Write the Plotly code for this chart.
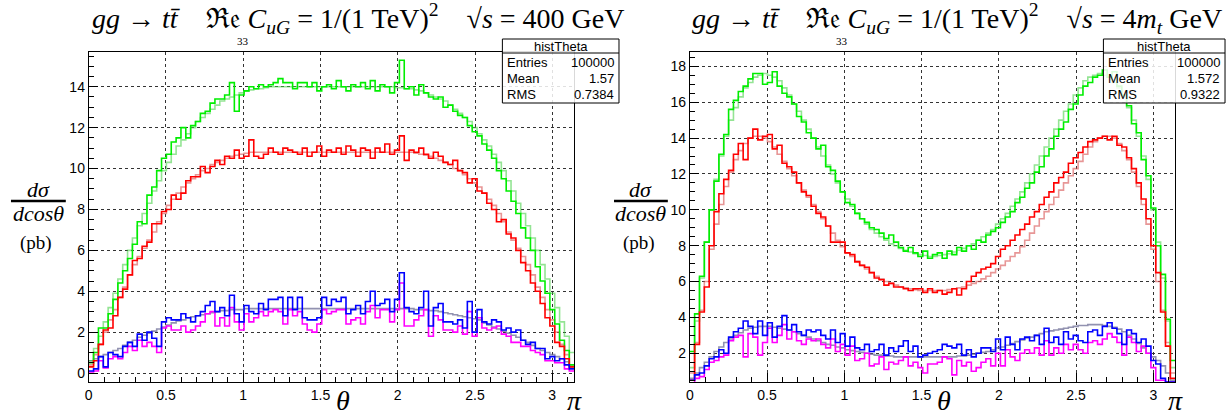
import numpy as np
import plotly.graph_objects as go

# ---------------- data (100 bins in theta from 0 to pi) ----------------
NBINS = 100
theta_edges = np.linspace(0, np.pi, NBINS + 1)

# Left panel: sqrt(s) = 400 GeV
green_smooth_L = [0.6, 1.2, 1.8, 2.5, 3.2, 3.9, 4.6, 5.3, 6.0, 6.6,
                  7.2, 7.8, 8.3, 8.9, 9.4, 9.9, 10.3, 10.7, 11.1, 11.4,
                  11.7, 12.0, 12.3, 12.5, 12.7, 12.9, 13.1, 13.3, 13.4, 13.5,
                  13.6, 13.7, 13.8, 13.85, 13.9, 13.9, 13.95, 14.0, 14.0, 14.0,
                  14.0, 14.0, 14.0, 14.0, 14.0, 14.0, 14.0, 14.0, 14.0, 14.0,
                  14.0, 14.0, 14.0, 14.0, 14.0, 14.0, 14.0, 14.0, 14.0, 14.0,
                  14.0, 14.0, 14.0, 13.95, 13.95, 13.9, 13.9, 13.85, 13.8, 13.7,
                  13.6, 13.5, 13.4, 13.3, 13.1, 12.9, 12.7, 12.5, 12.3, 12.0,
                  11.7, 11.4, 11.1, 10.7, 10.3, 9.9, 9.4, 8.9, 8.3, 7.8,
                  7.2, 6.6, 6.0, 5.3, 4.6, 3.9, 3.2, 2.5, 1.8, 1.0]
green_L = [0.5, 1.0, 2.2, 2.2, 2.9, 3.6, 4.4, 5.0, 5.6, 6.3,
           7.4, 7.3, 8.7, 9.1, 9.9, 10.5, 10.7, 11.3, 11.5, 12.0,
           11.5, 12.1, 12.3, 12.7, 12.8, 13.2, 13.4, 13.4, 13.6, 14.2,
           12.8, 13.6, 13.8, 14.0, 13.9, 14.1, 14.0, 14.1, 14.2, 14.4,
           14.2, 14.2, 13.9, 14.2, 14.2, 14.0, 14.2, 13.8, 14.0, 14.1,
           13.9, 14.3, 14.0, 13.8, 14.1, 14.0, 14.2, 13.9, 14.3, 13.8,
           14.1, 14.0, 13.7, 14.2, 15.3, 13.9, 14.0, 13.6, 14.1, 13.7,
           13.5, 13.4, 13.5, 13.0, 13.1, 12.8, 12.6, 12.5, 12.1, 11.8,
           11.6, 11.2, 10.9, 10.5, 9.9, 9.5, 8.9, 8.4, 7.8, 7.1,
           6.6, 6.0, 5.2, 4.5, 3.9, 3.1, 2.4, 1.6, 1.1, 0.4]
red_smooth_L = [0.4, 0.9, 1.4, 2.0, 2.6, 3.1, 3.7, 4.2, 4.8, 5.3,
                5.7, 6.1, 6.5, 6.9, 7.4, 7.8, 8.2, 8.5, 8.8, 9.1,
                9.3, 9.5, 9.7, 9.9, 10.0, 10.2, 10.3, 10.4, 10.5, 10.6,
                10.65, 10.7, 10.75, 10.8, 10.8, 10.8, 10.8, 10.8, 10.8, 10.8,
                10.8, 10.8, 10.8, 10.8, 10.8, 10.8, 10.8, 10.8, 10.8, 10.8,
                10.8, 10.8, 10.8, 10.8, 10.8, 10.8, 10.8, 10.8, 10.8, 10.8,
                10.8, 10.8, 10.8, 10.8, 10.8, 10.8, 10.8, 10.75, 10.7, 10.65,
                10.6, 10.5, 10.4, 10.3, 10.2, 10.0, 9.9, 9.7, 9.5, 9.3,
                9.1, 8.8, 8.5, 8.2, 7.8, 7.4, 6.9, 6.5, 6.1, 5.7,
                5.3, 4.8, 4.2, 3.7, 3.1, 2.6, 2.0, 1.4, 0.9, 0.4]
red_L = [0.3, 0.6, 1.4, 2.1, 2.2, 2.8, 3.7, 4.1, 4.8, 5.5,
         5.6, 6.2, 6.4, 7.3, 7.3, 7.9, 8.0, 8.7, 8.5, 8.8,
         9.4, 9.6, 9.6, 10.1, 9.8, 10.1, 10.4, 10.2, 10.6, 10.5,
         10.9, 10.5, 10.6, 11.4, 10.6, 10.5, 10.7, 11.0, 10.8, 10.7,
         11.0, 10.9, 10.8, 10.7, 11.0, 10.6, 10.8, 11.1, 10.6, 10.9,
         10.8, 11.0, 10.7, 11.1, 10.9, 10.6, 11.0, 10.9, 10.5, 11.0,
         10.8, 11.2, 10.7, 10.9, 11.6, 10.4, 10.9, 10.8, 11.0, 10.7,
         10.5, 10.8, 10.6, 10.3, 10.2, 10.4, 9.9, 9.8, 9.3, 9.5,
         8.9, 8.8, 8.3, 8.0, 7.4, 7.5, 6.8, 6.6, 6.0, 5.4,
         5.0, 4.4, 4.0, 3.4, 2.7, 2.3, 1.5, 1.3, 0.7, 0.3]
gray_L = [0.6, 0.7, 0.8, 0.9, 1.0, 1.1, 1.2, 1.35, 1.5, 1.6,
          1.75, 1.85, 1.95, 2.05, 2.15, 2.25, 2.35, 2.45, 2.55, 2.6,
          2.7, 2.75, 2.8, 2.85, 2.9, 2.95, 3.0, 3.05, 3.05, 3.1,
          3.1, 3.1, 3.15, 3.15, 3.15, 3.15, 3.15, 3.15, 3.15, 3.15,
          3.15, 3.15, 3.15, 3.15, 3.15, 3.15, 3.15, 3.15, 3.15, 3.15,
          3.15, 3.15, 3.15, 3.15, 3.15, 3.15, 3.15, 3.15, 3.15, 3.15,
          3.15, 3.15, 3.15, 3.15, 3.15, 3.15, 3.15, 3.1, 3.1, 3.1,
          3.05, 3.05, 3.0, 2.95, 2.9, 2.85, 2.8, 2.75, 2.7, 2.65,
          2.6, 2.45, 2.35, 2.25, 2.15, 2.05, 1.95, 1.85, 1.75, 1.6,
          1.5, 1.35, 1.2, 1.1, 1.0, 0.9, 0.8, 0.7, 0.55, 0.3]
blue_L = [0.1, 0.2, 0.8, 0.3, 1.0, 0.9, 0.8, 1.3, 1.5, 1.3,
          1.9, 1.6, 2.0, 1.7, 1.3, 2.5, 2.7, 2.6, 2.6, 2.9,
          2.7, 2.5, 2.8, 3.0, 3.3, 3.5, 3.0, 3.2, 2.8, 3.8,
          2.9, 2.5, 3.3, 3.0, 2.9, 3.4, 3.1, 3.6, 3.6, 3.7,
          2.8, 3.7, 3.1, 3.7, 2.7, 2.6, 2.6, 2.7, 3.7, 3.3,
          3.6, 3.5, 3.7, 2.9, 3.1, 3.3, 2.9, 3.5, 4.0, 3.3,
          3.4, 3.6, 3.0, 3.6, 4.9, 3.2, 3.0, 2.9, 3.2, 4.0,
          2.3, 3.2, 3.4, 2.5, 2.5, 2.4, 2.6, 2.2, 3.5, 2.0,
          3.1, 2.5, 2.4, 2.6, 2.5, 2.1, 2.2, 2.0, 2.1, 1.6,
          1.4, 1.5, 1.2, 1.2, 0.7, 0.8, 0.6, 0.7, 0.4, 0.2]
magenta_L = [0.05, 0.1, 0.6, 0.25, 0.7, 0.8, 0.7, 1.0, 1.3, 1.1,
             1.6, 1.3, 1.5, 1.3, 1.0, 2.2, 2.3, 2.1, 2.1, 2.3,
             2.0, 2.1, 2.3, 2.5, 2.9, 3.0, 2.3, 2.7, 2.3, 3.2,
             2.5, 2.1, 2.9, 2.5, 2.7, 3.0, 2.8, 3.0, 3.1, 3.0,
             2.4, 3.1, 2.8, 3.0, 2.4, 2.1, 2.0, 2.4, 3.1, 2.9,
             3.0, 3.1, 3.1, 2.4, 2.6, 2.7, 2.4, 3.0, 3.3, 2.7,
             3.1, 3.1, 2.5, 3.1, 4.4, 2.3, 2.3, 2.6, 2.8, 3.1,
             1.8, 2.8, 2.6, 2.1, 2.1, 2.0, 2.3, 1.9, 3.0, 1.8,
             2.7, 2.2, 2.1, 2.2, 2.3, 1.9, 1.8, 1.5, 1.5, 1.3,
             1.3, 1.1, 1.0, 0.9, 0.6, 0.6, 0.5, 0.5, 0.2, 0.1]

# Right panel: sqrt(s) = 4 m_t
green_smooth_R = [1.2, 3.8, 6.2, 8.2, 10.0, 11.7, 13.0, 14.1, 15.0, 15.7,
                  16.3, 16.8, 17.1, 17.4, 17.5, 17.6, 17.5, 17.4, 17.2, 16.8,
                  16.4, 15.9, 15.5, 15.0, 14.5, 14.0, 13.5, 13.0, 12.5, 12.0,
                  11.5, 11.0, 10.6, 10.2, 9.8, 9.5, 9.2, 8.9, 8.7, 8.5,
                  8.3, 8.1, 8.0, 7.85, 7.75, 7.65, 7.55, 7.5, 7.45, 7.4,
                  7.4, 7.45, 7.5, 7.55, 7.65, 7.75, 7.85, 8.0, 8.1, 8.3,
                  8.5, 8.7, 8.9, 9.2, 9.5, 9.8, 10.2, 10.6, 11.0, 11.5,
                  12.0, 12.5, 13.0, 13.5, 14.0, 14.5, 15.0, 15.5, 15.9, 16.4,
                  16.8, 17.2, 17.4, 17.5, 17.6, 17.5, 17.4, 17.1, 16.8, 16.3,
                  15.7, 15.0, 14.1, 13.0, 11.7, 10.0, 8.2, 6.2, 3.8, 1.2]
green_R = [2.1, 4.2, 6.3, 8.2, 10.0, 11.6, 13.1, 14.2, 15.6, 16.1,
           16.6, 16.9, 17.3, 17.6, 17.6, 17.0, 17.1, 17.7, 16.9, 16.5,
           16.3, 15.9, 15.2, 14.9, 14.3, 14.0, 13.4, 13.6, 12.4, 12.2,
           11.6, 11.0, 10.4, 10.3, 9.8, 9.5, 9.3, 9.0, 8.9, 8.7,
           8.4, 8.6, 8.2, 7.9, 7.7, 7.9, 7.6, 7.4, 7.7, 7.3,
           7.5, 7.6, 7.3, 7.7, 7.5, 7.9, 7.7, 8.0, 7.8, 8.3,
           8.2, 8.6, 8.8, 9.0, 9.3, 9.6, 9.9, 10.4, 10.7, 11.2,
           11.5, 12.1, 12.4, 13.0, 13.4, 14.1, 14.5, 14.9, 15.6, 15.9,
           16.4, 16.9, 17.1, 17.4, 17.5, 17.8, 17.4, 17.7, 16.9, 16.4,
           15.8, 14.8, 14.3, 12.8, 11.9, 10.1, 8.0, 6.4, 3.9, 1.6]
red_smooth_R = [0.9, 2.6, 4.4, 6.0, 7.8, 9.2, 10.3, 11.3, 12.1, 12.8,
                13.3, 13.7, 14.0, 14.1, 14.1, 14.0, 13.8, 13.5, 13.1, 12.7,
                12.3, 11.9, 11.5, 11.1, 10.7, 10.3, 9.9, 9.5, 9.1, 8.7,
                8.3, 7.95, 7.6, 7.4, 7.15, 6.9, 6.7, 6.5, 6.3, 6.15,
                6.0, 5.9, 5.8, 5.7, 5.65, 5.6, 5.55, 5.5, 5.5, 5.5,
                5.5, 5.5, 5.5, 5.55, 5.6, 5.65, 5.7, 5.8, 5.9, 6.0,
                6.15, 6.3, 6.5, 6.7, 6.9, 7.15, 7.4, 7.6, 7.95, 8.3,
                8.7, 9.1, 9.5, 9.9, 10.3, 10.7, 11.1, 11.5, 11.9, 12.3,
                12.7, 13.1, 13.5, 13.8, 14.0, 14.1, 14.1, 14.0, 13.7, 13.3,
                12.8, 12.1, 11.3, 10.3, 9.2, 7.8, 6.0, 4.4, 2.6, 0.9]
red_R = [0.5, 2.5, 4.3, 5.7, 8.0, 9.9, 10.9, 11.7, 12.2, 13.1,
         13.7, 12.8, 14.0, 14.5, 13.9, 14.1, 14.2, 13.4, 13.6, 12.6,
         12.4, 12.1, 11.5, 11.0, 10.8, 10.2, 9.8, 9.6, 9.1, 8.2,
         8.2, 8.2, 7.6, 7.5, 7.1, 6.9, 6.8, 6.5, 6.2, 6.1,
         5.8, 5.9, 5.7, 5.7, 5.6, 5.5, 5.6, 5.6, 5.4, 5.6,
         5.4, 5.5, 5.3, 5.4, 5.6, 5.25, 5.6, 6.0, 6.3, 6.5,
         6.7, 6.8, 7.0, 7.4, 7.8, 8.0, 8.3, 8.6, 8.9, 9.2,
         9.6, 9.9, 10.3, 10.7, 11.0, 11.5, 11.8, 12.1, 12.6, 12.9,
         13.2, 13.5, 13.8, 13.9, 14.0, 14.1, 13.9, 14.1, 13.6, 13.5,
         12.9, 12.3, 11.5, 10.6, 9.5, 8.0, 6.5, 4.3, 2.4, 0.6]
gray_R = [0.6, 0.9, 1.2, 1.5, 1.8, 2.1, 2.35, 2.6, 2.8, 3.0,
          3.15, 3.3, 3.4, 3.45, 3.5, 3.5, 3.5, 3.45, 3.4, 3.35,
          3.3, 3.2, 3.1, 3.0, 2.9, 2.8, 2.7, 2.6, 2.5, 2.45,
          2.35, 2.3, 2.2, 2.15, 2.1, 2.05, 2.0, 1.95, 1.9, 1.9,
          1.85, 1.85, 1.8, 1.8, 1.8, 1.8, 1.8, 1.8, 1.8, 1.8,
          1.8, 1.8, 1.8, 1.8, 1.8, 1.85, 1.85, 1.9, 1.95, 2.0,
          2.05, 2.1, 2.2, 2.3, 2.35, 2.45, 2.55, 2.65, 2.75, 2.85,
          2.9, 3.0, 3.1, 3.2, 3.25, 3.3, 3.35, 3.4, 3.45, 3.5,
          3.55, 3.55, 3.6, 3.6, 3.6, 3.55, 3.5, 3.45, 3.35, 3.2,
          3.0, 2.8, 2.55, 2.3, 2.0, 1.8, 1.6, 1.3, 0.9, 0.5]
blue_R = [0.5, 0.8, 0.9, 1.3, 1.7, 1.8, 2.2, 2.0, 2.9, 3.2,
          3.4, 3.8, 3.5, 3.1, 3.8, 3.0, 3.7, 2.9, 3.5, 4.1,
          3.3, 3.6, 3.2, 3.0, 3.3, 3.2, 3.3, 3.0, 2.8, 3.3,
          2.6, 3.1, 2.4, 2.9, 2.3, 2.2, 2.5, 2.1, 2.2, 2.5,
          1.9, 2.3, 2.1, 2.4, 2.7, 2.1, 2.4, 1.8, 1.9, 2.0,
          2.1, 2.2, 2.5, 2.4, 2.3, 2.5, 1.9, 2.2, 1.8, 2.0,
          2.3, 2.3, 2.1, 2.8, 2.2, 2.9, 2.5, 2.2, 2.8, 2.9,
          2.7, 3.0, 2.5, 3.4, 2.6, 2.9, 2.5, 3.2, 2.8, 3.0,
          2.7, 2.6, 3.2, 3.3, 3.0, 3.5, 3.7, 3.4, 3.1, 2.5,
          3.3, 3.1, 2.6, 2.8, 2.4, 1.6, 1.4, 0.6, 0.4, 0.4]
magenta_R = [0.3, 0.6, 0.7, 1.1, 1.5, 1.6, 1.8, 1.9, 2.7, 2.9,
             3.0, 1.8, 3.1, 2.9, 1.9, 2.6, 3.4, 2.6, 3.0, 3.6,
             2.8, 3.2, 2.7, 2.5, 2.8, 2.7, 2.8, 2.5, 2.3, 2.8,
             2.1, 2.5, 1.9, 2.4, 1.6, 1.7, 2.0, 1.3, 1.4, 1.8,
             1.1, 1.5, 1.4, 1.6, 1.8, 1.3, 1.5, 1.2, 0.9, 1.4,
             1.4, 1.5, 1.8, 1.7, 0.8, 1.6, 1.3, 1.5, 1.0, 1.2,
             1.5, 1.7, 1.3, 2.0, 1.3, 2.2, 1.8, 1.6, 2.0, 2.2,
             2.0, 2.3, 1.9, 2.7, 1.9, 2.3, 2.0, 2.5, 2.2, 2.5,
             2.2, 2.0, 2.6, 2.7, 2.5, 2.8, 3.1, 2.9, 2.6, 1.9,
             2.9, 2.6, 2.1, 2.4, 2.0, 1.2, 0.5, 0.5, 0.4, 0.4]

x_tick_vals = [0, 0.5, 1, 1.5, 2, 2.5, 3]
x_tick_text = ["0", "0.5", "1", "1.5", "2", "2.5", "3"]
titles = ["400 GeV", "4<i>m</i><sub><i>t</i></sub> GeV"]
stats = [("histTheta", "100000", "1.57", "0.7384"),
         ("histTheta", "100000", "1.572", "0.9322")]

# ---------------- layout helpers ----------------
W, H = 1232, 416


def px(x):
    return x / W


def py(y):
    return 1 - y / H


SERIF = "Liberation Serif, DejaVu Serif, serif"
SANS = "Liberation Sans, Arial, sans-serif"

C_LGREEN = "rgba(60,205,60,0.55)"
C_LRED = "rgba(215,80,80,0.6)"
C_GRAY = "rgba(110,110,150,0.75)"
C_GREEN = "#00ee00"
C_RED = "#ff0000"
C_BLUE = "#0000ff"
C_MAG = "#ff00ff"


def step(v):
    return list(v) + [v[-1]]


fig = go.Figure()

panels = [
    dict(xa="x", ya="y",
         series=[(gray_L, C_GRAY), (green_smooth_L, C_LGREEN), (red_smooth_L, C_LRED),
                 (green_L, C_GREEN), (red_L, C_RED), (magenta_L, C_MAG), (blue_L, C_BLUE)]),
    dict(xa="x2", ya="y2",
         series=[(gray_R, C_GRAY), (green_smooth_R, C_LGREEN), (red_smooth_R, C_LRED),
                 (green_R, C_GREEN), (red_R, C_RED), (magenta_R, C_MAG), (blue_R, C_BLUE)]),
]

for p in panels:
    for vals, col in p["series"]:
        fig.add_trace(go.Scatter(
            x=theta_edges, y=step(vals), mode="lines",
            line=dict(color=col, width=1.6, shape="hv"),
            xaxis=p["xa"], yaxis=p["ya"], showlegend=False, hoverinfo="skip"))

frame_top, frame_bot = 52, 382
left_dom = [px(85), px(572)]
right_dom = [px(688), px(1175)]
ydom = [py(frame_bot), py(frame_top)]

common_x = dict(range=[0, np.pi], tickmode="array", tickvals=x_tick_vals, ticktext=x_tick_text,
                ticks="inside", ticklen=9, tickwidth=1, tickcolor="black",
                minor=dict(dtick=0.1, tick0=0, ticks="inside", ticklen=5, tickcolor="black", showgrid=False),
                showgrid=True, gridcolor="#333", griddash="dot", gridwidth=1,
                showline=True, linecolor="black", linewidth=1, mirror=True, zeroline=False,
                tickfont=dict(family=SANS, size=14, color="black"))
common_y = dict(dtick=2, tick0=0, ticks="inside", ticklen=9, tickwidth=1, tickcolor="black",
                minor=dict(dtick=0.5, tick0=0, ticks="inside", ticklen=5, tickcolor="black", showgrid=False),
                showgrid=True, gridcolor="#333", griddash="dot", gridwidth=1,
                showline=True, linecolor="black", linewidth=1, mirror=True, zeroline=False,
                tickfont=dict(family=SANS, size=14, color="black"))

fig.update_layout(
    width=W, height=H, margin=dict(l=0, r=0, t=0, b=0),
    paper_bgcolor="white", plot_bgcolor="white", showlegend=False,
    xaxis=dict(domain=left_dom, anchor="y", **common_x),
    yaxis=dict(domain=ydom, anchor="x", range=[-0.44, 15.7], **common_y),
    xaxis2=dict(domain=right_dom, anchor="y2", **common_x),
    yaxis2=dict(domain=ydom, anchor="x2", range=[0.4, 18.8], **common_y),
)

annotations = []
shapes = []
for k, (x0, x1, tcx, fr_l, fr_r, box_l, box_r) in enumerate([
        (85, 572, 355, 7, 62, 500, 617),
        (688, 1175, 956, 612, 666, 1103, 1225)]):
    # title
    title = ("<i>gg</i> → <i>t</i><i>t̄</i>    ℜ𝔢 <i>C</i><sub><i>uG</i></sub> = 1/(1 TeV)<sup>2</sup>"
             "    √<i>s</i> = " + titles[k])
    annotations.append(dict(x=px(tcx), y=py(19), xref="paper", yref="paper", text=title,
                            showarrow=False, xanchor="center", yanchor="middle",
                            font=dict(family=SERIF, size=28, color="black")))
    annotations.append(dict(x=px(tcx - 115), y=py(41), xref="paper", yref="paper", text="33",
                            showarrow=False, xanchor="center", yanchor="middle",
                            font=dict(family=SERIF, size=11, color="black")))
    # y-axis title: fraction
    fc = (fr_l + fr_r) / 2
    annotations.append(dict(x=px(fc), y=py(189), xref="paper", yref="paper", text="<i>dσ</i>",
                            showarrow=False, xanchor="center", yanchor="middle",
                            font=dict(family=SERIF, size=22, color="black")))
    annotations.append(dict(x=px(fc), y=py(214), xref="paper", yref="paper", text="<i>dcosθ</i>",
                            showarrow=False, xanchor="center", yanchor="middle",
                            font=dict(family=SERIF, size=22, color="black")))
    annotations.append(dict(x=px(fc - 2), y=py(243), xref="paper", yref="paper", text="(pb)",
                            showarrow=False, xanchor="center", yanchor="middle",
                            font=dict(family=SERIF, size=19, color="black")))
    shapes.append(dict(type="line", xref="paper", yref="paper", x0=px(fr_l), x1=px(fr_r),
                       y0=py(201), y1=py(201), line=dict(color="black", width=2.5)))
    # x-axis title
    annotations.append(dict(x=px(x0 + 255), y=py(400), xref="paper", yref="paper", text="<i>θ</i>",
                            showarrow=False, xanchor="center", yanchor="middle",
                            font=dict(family=SERIF, size=28, color="black")))
    annotations.append(dict(x=px(x1), y=py(400), xref="paper", yref="paper", text="<i>π</i>",
                            showarrow=False, xanchor="center", yanchor="middle",
                            font=dict(family=SERIF, size=28, color="black")))
    # stats box
    name, ent, mean, rms = stats[k]
    shapes.append(dict(type="rect", xref="paper", yref="paper", x0=px(box_l), x1=px(box_r),
                       y0=py(39), y1=py(103), line=dict(color="black", width=1),
                       fillcolor="rgba(255,255,255,0.85)", layer="above"))
    shapes.append(dict(type="line", xref="paper", yref="paper", x0=px(box_l), x1=px(box_r),
                       y0=py(53), y1=py(53), line=dict(color="black", width=1)))
    annotations.append(dict(x=px((box_l + box_r) / 2), y=py(46), xref="paper", yref="paper",
                            text=name, showarrow=False, xanchor="center", yanchor="middle",
                            font=dict(family=SANS, size=13, color="black")))
    for j, (lab, val) in enumerate([("Entries", ent), ("Mean", mean), ("RMS", rms)]):
        yy = 62 + j * 16.5
        annotations.append(dict(x=px(box_l + 3), y=py(yy), xref="paper", yref="paper", text=lab,
                                showarrow=False, xanchor="left", yanchor="middle",
                                font=dict(family=SANS, size=13, color="black")))
        annotations.append(dict(x=px(box_r - 3), y=py(yy), xref="paper", yref="paper", text=val,
                                showarrow=False, xanchor="right", yanchor="middle",
                                font=dict(family=SANS, size=13, color="black")))

fig.update_layout(annotations=annotations, shapes=shapes)
fig.write_html("out.html", config={"displayModeBar": False},
               post_script="document.body.style.margin='0';document.body.style.overflow='hidden';")
